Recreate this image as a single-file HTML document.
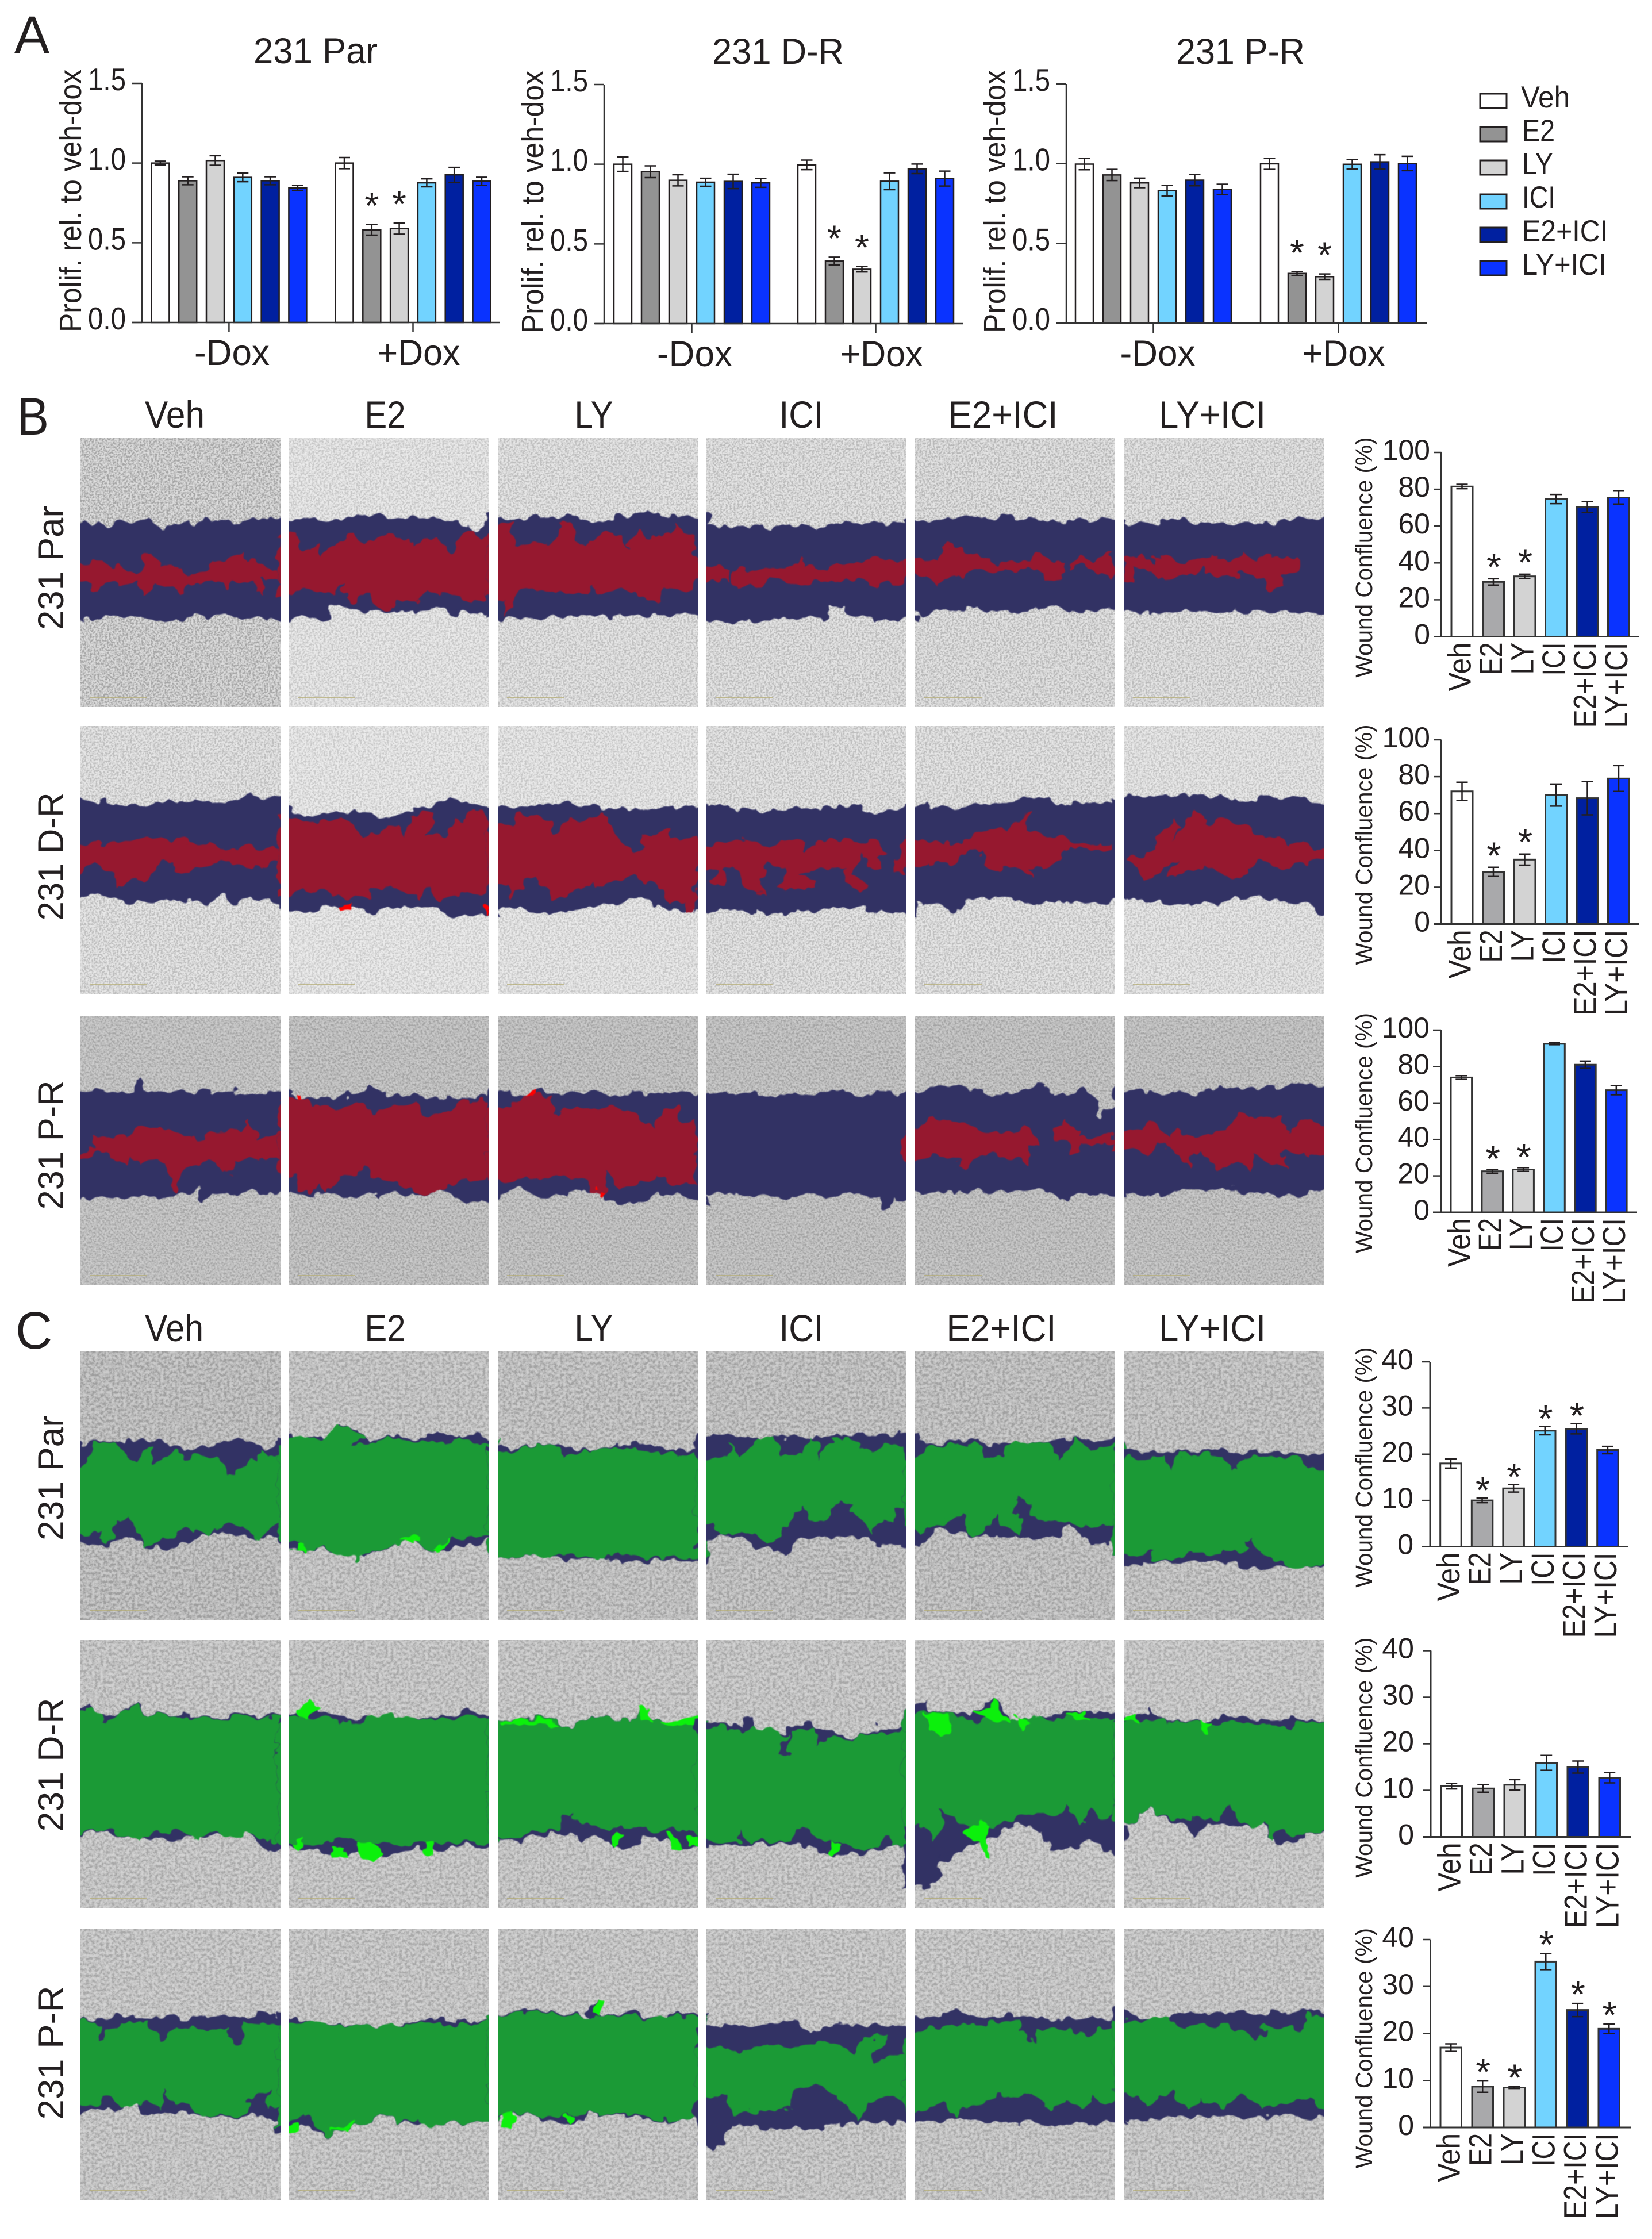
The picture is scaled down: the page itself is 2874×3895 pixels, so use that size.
<!DOCTYPE html>
<html lang="en">
<head>
<meta charset="utf-8">
<title>Wound confluence and proliferation figure</title>
<style>
html,body{margin:0;padding:0;background:#fff;}
svg{display:block;}
text{font-family:"Liberation Sans",Arial,sans-serif;fill:#231f20;}
</style>
</head>
<body>
<svg id="figure" xmlns="http://www.w3.org/2000/svg" width="2874" height="3895" viewBox="0 0 2874 3895">
<defs>
<filter id="tex-speckle" x="0" y="0" width="100%" height="100%" color-interpolation-filters="sRGB">
<feTurbulence type="fractalNoise" baseFrequency="0.3" numOctaves="3" seed="4"/>
<feColorMatrix type="matrix" values="3 0 0 0 -1  3 0 0 0 -1  3 0 0 0 -1  0 0 0 0 1"/>
</filter>
<filter id="tex-fine" x="0" y="0" width="100%" height="100%" color-interpolation-filters="sRGB">
<feTurbulence type="fractalNoise" baseFrequency="0.28" numOctaves="2" seed="7"/>
<feColorMatrix type="matrix" values="2.4 0 0 0 -0.7  2.4 0 0 0 -0.7  2.4 0 0 0 -0.7  0 0 0 0 1"/>
</filter>
<filter id="tex-fibre" x="0" y="0" width="100%" height="100%" color-interpolation-filters="sRGB">
<feTurbulence type="fractalNoise" baseFrequency="0.2" numOctaves="3" seed="11"/>
<feColorMatrix type="matrix" values="2.4 0 0 0 -0.7  2.4 0 0 0 -0.7  2.4 0 0 0 -0.7  0 0 0 0 1"/>
</filter>
<filter id="edge-wobble" filterUnits="userSpaceOnUse" x="120" y="740" width="2210" height="3110" color-interpolation-filters="sRGB">
<feTurbulence type="fractalNoise" baseFrequency="0.045" numOctaves="2" seed="9" result="noise"/>
<feColorMatrix in="noise" type="matrix" values="1 0 0 0 0  0 1 0 0 0  0 0 1 0 0  0 0 0 0 1" result="opaqueNoise"/>
<feDisplacementMap in="SourceGraphic" in2="opaqueNoise" scale="26" xChannelSelector="R" yChannelSelector="G" result="wobbled"/>
<feGaussianBlur in="wobbled" stdDeviation="0.9"/>
</filter>
<clipPath id="panel-clip"></clipPath>
</defs>

<rect x="0" y="0" width="2874" height="3895" fill="#ffffff"/>

<text x="25" y="92" font-size="92" textLength="61" lengthAdjust="spacingAndGlyphs">A</text>
<text x="30" y="756" font-size="92" textLength="55" lengthAdjust="spacingAndGlyphs">B</text>
<text x="27" y="2346" font-size="92" textLength="64" lengthAdjust="spacingAndGlyphs">C</text>

<text x="441" y="110" font-size="63" textLength="216" lengthAdjust="spacingAndGlyphs">231 Par</text>
<text x="1239" y="111" font-size="63" textLength="229" lengthAdjust="spacingAndGlyphs">231 D-R</text>
<text x="2046" y="111" font-size="63" textLength="224" lengthAdjust="spacingAndGlyphs">231 P-R</text>

<g>
<rect x="2575" y="163" width="46" height="25" fill="#ffffff" stroke="#231f20" stroke-width="3"/>
<text x="2646" y="187" font-size="53" textLength="85" lengthAdjust="spacingAndGlyphs">Veh</text>
<rect x="2575" y="221" width="46" height="25" fill="#939393" stroke="#231f20" stroke-width="3"/>
<text x="2648" y="245" font-size="53" textLength="57" lengthAdjust="spacingAndGlyphs">E2</text>
<rect x="2575" y="279" width="46" height="25" fill="#d3d3d3" stroke="#231f20" stroke-width="3"/>
<text x="2648" y="303" font-size="53" textLength="54" lengthAdjust="spacingAndGlyphs">LY</text>
<rect x="2575" y="338" width="46" height="25" fill="#72d3ff" stroke="#231f20" stroke-width="3"/>
<text x="2648" y="361" font-size="53" textLength="58" lengthAdjust="spacingAndGlyphs">ICI</text>
<rect x="2575" y="396" width="46" height="25" fill="#0020a0" stroke="#231f20" stroke-width="3"/>
<text x="2648" y="420" font-size="53" textLength="149" lengthAdjust="spacingAndGlyphs">E2+ICI</text>
<rect x="2575" y="454" width="46" height="25" fill="#0a33ff" stroke="#231f20" stroke-width="3"/>
<text x="2648" y="478" font-size="53" textLength="147" lengthAdjust="spacingAndGlyphs">LY+ICI</text>
</g>

<g text-anchor="middle" font-size="66">
<text x="304" y="744" textLength="104" lengthAdjust="spacingAndGlyphs">Veh</text>
<text x="670" y="744" textLength="71" lengthAdjust="spacingAndGlyphs">E2</text>
<text x="1033" y="744" textLength="67" lengthAdjust="spacingAndGlyphs">LY</text>
<text x="1394" y="744" textLength="77" lengthAdjust="spacingAndGlyphs">ICI</text>
<text x="1745" y="744" textLength="191" lengthAdjust="spacingAndGlyphs">E2+ICI</text>
<text x="2109" y="744" textLength="186" lengthAdjust="spacingAndGlyphs">LY+ICI</text>
</g>
<g text-anchor="middle" font-size="66">
<text x="303" y="2333" textLength="102" lengthAdjust="spacingAndGlyphs">Veh</text>
<text x="670" y="2333" textLength="71" lengthAdjust="spacingAndGlyphs">E2</text>
<text x="1033" y="2333" textLength="67" lengthAdjust="spacingAndGlyphs">LY</text>
<text x="1394" y="2333" textLength="77" lengthAdjust="spacingAndGlyphs">ICI</text>
<text x="1742" y="2333" textLength="191" lengthAdjust="spacingAndGlyphs">E2+ICI</text>
<text x="2109" y="2333" textLength="186" lengthAdjust="spacingAndGlyphs">LY+ICI</text>
</g>

<g text-anchor="middle" font-size="63">
<text transform="translate(110,988) rotate(-90)" textLength="216" lengthAdjust="spacingAndGlyphs">231 Par</text>
<text transform="translate(110,1490) rotate(-90)" textLength="223" lengthAdjust="spacingAndGlyphs">231 D-R</text>
<text transform="translate(110,1992) rotate(-90)" textLength="225" lengthAdjust="spacingAndGlyphs">231 P-R</text>
<text transform="translate(110,2571) rotate(-90)" textLength="218" lengthAdjust="spacingAndGlyphs">231 Par</text>
<text transform="translate(110,3070) rotate(-90)" textLength="233" lengthAdjust="spacingAndGlyphs">231 D-R</text>
<text transform="translate(110,3571) rotate(-90)" textLength="233" lengthAdjust="spacingAndGlyphs">231 P-R</text>
</g>

<g id="micrographs"></g>
<g id="charts"></g>
</svg>

<script>
// ---------- chart data ----------
const treatmentLabels = ['Veh', 'E2', 'LY', 'ICI', 'E2+ICI', 'LY+ICI'];
const treatmentLabelLengths = [85, 57, 56, 58, 149, 149];
const doseGroupLabels = ['-Dox', '+Dox'];
const proliferationTicks = [0, 0.5, 1, 1.5];
const proliferationTickLabels = ['0.0', '0.5', '1.0', '1.5'];
const confluenceTicksB = [0, 20, 40, 60, 80, 100];
const confluenceTickLabelsB = ['0', '20', '40', '60', '80', '100'];
const confluenceTicksC = [0, 10, 20, 30, 40];
const confluenceTickLabelsC = ['0', '10', '20', '30', '40'];

const parMinusDoxValues = [1.0, 0.889, 1.016, 0.91, 0.889, 0.844];
const parMinusDoxErrors = [0.012, 0.025, 0.03, 0.027, 0.025, 0.015];
const parPlusDoxValues = [1.0, 0.581, 0.589, 0.876, 0.926, 0.886];
const parPlusDoxErrors = [0.035, 0.033, 0.035, 0.025, 0.047, 0.025];
const parPlusDoxStars = [0, 1, 1, 0, 0, 0];

const drMinusDoxValues = [1.0, 0.953, 0.899, 0.887, 0.892, 0.883];
const drMinusDoxErrors = [0.045, 0.037, 0.035, 0.025, 0.045, 0.028];
const drPlusDoxValues = [0.996, 0.392, 0.341, 0.893, 0.971, 0.91];
const drPlusDoxErrors = [0.03, 0.025, 0.017, 0.053, 0.03, 0.047];
const drPlusDoxStars = [0, 1, 1, 0, 0, 0];

const prMinusDoxValues = [0.997, 0.929, 0.879, 0.831, 0.896, 0.839];
const prMinusDoxErrors = [0.035, 0.035, 0.03, 0.033, 0.035, 0.032];
const prPlusDoxValues = [0.999, 0.311, 0.291, 0.996, 1.011, 1.001];
const prPlusDoxErrors = [0.035, 0.012, 0.017, 0.03, 0.045, 0.045];
const prPlusDoxStars = [0, 1, 1, 0, 0, 0];

const woundBParValues = [81.5, 29.7, 32.7, 74.7, 70.3, 75.5];
const woundBParErrors = [1.2, 1.7, 1.2, 2.5, 3, 3.5];
const woundBParStars = [0, 1, 1, 0, 0, 0];
const woundBDrValues = [72, 28.3, 35, 70, 68.3, 79];
const woundBDrErrors = [5, 2.5, 3, 6, 9, 7];
const woundBDrStars = [0, 1, 1, 0, 0, 0];
const woundBPrValues = [74, 22.5, 23.5, 92.5, 81, 67];
const woundBPrErrors = [1, 1, 1, 0.5, 2, 2.5];
const woundBPrStars = [0, 1, 1, 0, 0, 0];

const woundCParValues = [18, 10, 12.6, 25.1, 25.5, 20.9];
const woundCParErrors = [1, 0.5, 0.8, 0.9, 1.1, 0.8];
const woundCParStars = [0, 1, 1, 1, 1, 0];
const woundCDrValues = [10.9, 10.4, 11.2, 15.9, 15, 12.7];
const woundCDrErrors = [0.6, 0.8, 1.1, 1.6, 1.3, 1.1];
const woundCDrStars = [0, 0, 0, 0, 0, 0];
const woundCPrValues = [17, 8.7, 8.5, 35.3, 25, 21];
const woundCPrErrors = [0.8, 1.2, 0.2, 1.7, 1.4, 1];
const woundCPrStars = [0, 1, 1, 1, 1, 1];

// ---------- micrograph traces (crop-space outlines of the segmented wound areas) ----------
const cellPalette = {navy: '#323264', red: '#96182f', green: '#1b9a36', hotRed: '#ff0000', hotGreen: '#0cf00c'};
const micrographMasks = [
 {n:'b-par-veh',c:0,col:0,row:0,tone:'#c8c8c8',band:'14,170 60,172 120,168 180,166 205,170 220,180 240,174 300,172 350,162 420,168 480,162 510,165 510,343 430,338 340,336 260,340 200,343 120,340 60,342 14,342',fill:['14,250 40,244 70,238 90,245 130,255 150,262 170,255 175,235 190,226 205,240 205,252 250,250 280,265 330,260 345,240 390,235 420,222 425,240 460,238 490,255 510,260 510,282 480,270 465,268 470,295 455,290 450,272 400,278 375,285 370,276 300,272 280,280 270,300 258,298 250,288 200,276 190,288 170,298 160,285 165,272 130,280 100,278 60,280 50,292 35,275 14,270']},
 {n:'b-par-e2',c:0,col:1,row:0,tone:'#dedede',band:'530,165 580,160 620,165 700,160 760,157 830,160 890,157 950,170 1000,180 1015,170 1027,165 1027,335 950,330 880,325 800,330 700,325 670,322 640,320 622,340 580,340 530,338',fill:['530,190 550,190 565,215 580,222 600,210 610,230 640,205 670,200 680,190 720,205 750,205 760,192 830,198 840,212 870,195 905,200 930,225 965,190 990,178 1005,195 1027,195 1027,305 1000,312 970,308 930,295 880,288 850,312 800,305 780,325 760,322 730,300 690,310 670,300 665,272 650,295 600,290 560,285 530,300']},
 {n:'b-par-ly',c:0,col:2,row:0,tone:'#d8d8d8',band:'1049,155 1120,162 1200,160 1290,165 1350,160 1425,152 1500,158 1545,158 1545,335 1480,333 1400,335 1300,338 1200,335 1120,340 1049,338',fill:['1049,185 1085,165 1090,210 1130,212 1170,205 1195,190 1205,167 1230,175 1245,200 1260,208 1290,192 1350,190 1375,220 1395,180 1430,195 1480,190 1490,170 1505,190 1545,195 1545,292 1480,290 1460,285 1445,315 1420,305 1380,292 1300,296 1290,278 1275,298 1200,295 1140,290 1100,288 1085,315 1065,335 1060,310 1049,305']},
 {n:'b-par-ici',c:1,col:3,row:0,tone:'#d6d6d6',band:'27,177 100,175 180,178 260,172 300,182 340,170 400,170 523,168 523,343 480,347 420,340 375,335 365,318 335,320 325,342 250,340 120,345 27,347',fill:['27,242 55,252 85,258 85,270 55,268 27,272','95,258 160,252 185,255 230,250 255,248 265,236 270,250 330,255 370,245 420,238 523,238 523,280 470,278 430,282 390,268 340,275 300,275 240,278 190,268 160,280 110,288 95,270']},
 {n:'b-par-e2-ici',c:1,col:4,row:0,tone:'#d4d4d4',band:'544,162 640,165 720,160 850,160 900,170 960,162 1040,160 1040,322 960,328 880,325 800,330 700,325 620,327 544,333',fill:['544,230 600,238 610,218 640,208 680,232 730,230 745,248 780,238 820,240 850,225 890,240 915,240 905,250 905,268 880,280 860,275 860,255 820,248 770,255 680,255 670,268 640,262 600,278 570,265 544,262','930,248 955,225 990,238 1040,220 1040,272 1000,262 970,245']},
 {n:'b-par-ly-ici',c:1,col:5,row:0,tone:'#d6d6d6',band:'1062,170 1130,170 1200,165 1290,172 1380,170 1450,170 1500,160 1558,165 1558,333 1400,328 1280,330 1230,325 1150,332 1062,328',fill:['1068,232 1085,235 1105,228 1130,240 1170,232 1200,240 1240,240 1280,222 1320,240 1350,225 1390,240 1430,228 1480,235 1500,232 1490,250 1455,265 1450,285 1420,285 1405,262 1330,262 1270,265 1250,248 1240,258 1180,270 1150,268 1130,250 1085,255 1080,275 1065,275']},

 {n:'b-dr-veh',c:0,col:0,row:1,tone:'#d8d8d8',band:'14,680 50,678 90,685 150,690 230,680 270,682 340,678 400,680 430,670 510,670 510,860 440,855 400,863 365,848 320,865 270,855 200,860 150,862 90,855 50,845 14,855',fill:['14,760 70,755 170,745 260,750 350,762 510,762 510,790 480,792 470,800 420,790 330,790 300,800 270,812 255,810 245,790 210,795 170,820 130,825 115,838 100,815 60,795 50,790 14,808']},
 {n:'b-dr-e2',c:0,col:1,row:1,tone:'#e0e0e0',band:'530,685 570,708 620,700 700,700 770,712 830,695 880,690 930,675 980,682 1027,698 1027,885 950,885 900,870 800,870 730,880 700,870 620,868 570,880 530,875',fill:['530,700 570,720 650,712 680,715 710,745 745,735 800,725 820,745 835,700 890,700 870,740 920,745 940,710 975,715 985,695 1027,715 1027,845 960,845 900,860 870,830 860,860 800,835 750,835 720,855 680,850 640,848 620,840 570,840 530,850'],hot:['655,870 685,866 682,877 660,875','1015,870 1027,870 1027,885']},
 {n:'b-dr-ly',c:0,col:2,row:1,tone:'#dedede',band:'1049,690 1100,695 1190,680 1250,688 1330,690 1400,695 1480,693 1545,685 1545,880 1480,875 1400,858 1300,865 1180,885 1100,870 1049,875',fill:['1049,730 1085,720 1105,705 1160,705 1185,735 1230,715 1290,710 1310,695 1320,715 1360,760 1400,770 1410,745 1440,745 1470,725 1480,750 1545,740 1545,875 1520,880 1505,855 1480,860 1445,825 1430,820 1415,825 1380,815 1340,820 1290,840 1280,825 1250,840 1185,850 1140,810 1115,815 1105,835 1085,855 1075,825 1049,835']},
 {n:'b-dr-ici',c:1,col:3,row:1,tone:'#d8d8d8',band:'27,685 80,688 90,698 130,695 230,695 340,690 400,685 420,700 523,688 523,888 480,878 380,870 280,875 240,873 180,883 155,868 145,880 90,875 27,882',fill:['27,758 100,752 140,750 180,762 220,750 270,752 275,770 310,748 380,750 410,755 450,752 478,768 440,780 460,800 430,798 420,775 400,790 385,810 420,825 430,830 415,845 380,825 370,800 280,800 260,815 295,825 295,838 240,840 210,840 225,800 180,790 150,825 175,848 140,840 115,820 90,795 60,800 75,825 50,835 40,822 50,800 27,798','490,795 520,760 523,810 495,805']},
 {n:'b-dr-e2-ici',c:1,col:4,row:1,tone:'#d8d8d8',band:'544,685 640,690 780,680 850,670 900,685 1040,680 1040,858 930,862 880,855 850,865 730,852 630,875 590,860 544,862',fill:['544,742 575,752 620,755 665,755 690,740 750,725 770,735 790,715 805,715 825,700 815,730 850,735 880,742 915,740 935,757 1040,757 1040,765 925,765 885,790 860,805 830,795 835,812 800,800 760,795 745,810 720,795 715,765 680,765 650,785 600,790 580,795 544,798']},
 {n:'b-dr-ly-ici',c:1,col:5,row:1,tone:'#dcdcdc',band:'1062,672 1180,670 1300,670 1350,680 1440,670 1530,680 1558,688 1558,885 1520,865 1450,855 1370,855 1310,860 1230,865 1150,860 1080,855 1062,855',fill:['1078,785 1145,770 1150,740 1190,710 1205,728 1170,755 1210,735 1230,695 1265,700 1270,715 1330,712 1390,735 1450,745 1470,762 1505,750 1530,765 1558,765 1558,785 1510,790 1470,800 1410,790 1365,800 1345,815 1270,795 1235,805 1175,810 1200,775 1170,795 1115,820 1100,800']},

 {n:'b-pr-veh',c:0,col:0,row:2,tone:'#bebebe',band:'14,1210 130,1213 148,1210 150,1190 165,1188 175,1210 240,1213 380,1207 470,1215 510,1210 510,1392 420,1390 340,1395 315,1408 310,1385 290,1395 200,1398 130,1400 60,1395 40,1407 14,1400',fill:['14,1320 50,1315 50,1292 130,1295 155,1272 200,1280 250,1280 310,1300 340,1285 415,1285 435,1262 450,1300 510,1280 510,1328 400,1330 385,1360 370,1345 320,1335 285,1345 265,1360 250,1395 235,1390 245,1365 225,1340 190,1330 165,1340 140,1320 130,1345 90,1330 60,1318 14,1330']},
 {n:'b-pr-e2',c:0,col:1,row:2,tone:'#bcbcbc',band:'530,1218 650,1225 700,1212 730,1196 755,1215 830,1218 970,1225 1027,1215 1027,1405 975,1412 930,1392 850,1397 700,1397 640,1397 580,1395 530,1385',fill:['530,1225 570,1220 590,1240 640,1240 700,1232 740,1248 790,1235 840,1235 860,1250 920,1250 950,1228 1027,1225 1027,1360 950,1370 900,1395 850,1395 800,1370 740,1370 725,1345 700,1360 650,1360 630,1395 600,1370 590,1390 560,1385 545,1360 530,1360'],hot:['556,1212 565,1212 565,1218 556,1218']},
 {n:'b-pr-ly',c:0,col:2,row:2,tone:'#bcbcbc',band:'1049,1210 1130,1215 1150,1207 1180,1215 1300,1217 1440,1215 1545,1210 1545,1407 1470,1395 1360,1418 1310,1395 1250,1385 1180,1398 1100,1385 1049,1395',fill:['1049,1240 1085,1240 1120,1215 1180,1220 1190,1250 1250,1235 1300,1240 1330,1235 1380,1250 1440,1275 1460,1240 1500,1235 1505,1270 1545,1250 1545,1380 1500,1375 1470,1362 1400,1370 1350,1385 1320,1355 1310,1390 1290,1395 1270,1370 1200,1362 1100,1370 1049,1370'],hot:['1125,1215 1145,1206 1145,1214','1298,1392 1306,1392 1306,1398 1298,1398']},
 {n:'b-pr-ici',c:1,col:3,row:2,tone:'#bcbcbc',band:'27,1210 100,1215 200,1217 350,1213 420,1218 523,1210 523,1405 490,1405 485,1420 465,1420 460,1400 400,1398 240,1395 225,1408 210,1398 100,1393 27,1397',fill:[]},
 {n:'b-pr-e2-ici',c:1,col:4,row:2,tone:'#bcbcbc',band:'544,1212 660,1197 720,1215 800,1215 865,1195 885,1218 960,1205 1003,1228 990,1258 1010,1265 1020,1245 1040,1233 1040,1403 990,1390 960,1395 905,1405 880,1390 700,1390 544,1395',fill:['544,1285 580,1272 590,1255 650,1265 700,1278 770,1285 820,1275 855,1305 830,1310 825,1338 790,1330 720,1320 690,1330 670,1352 645,1345 665,1330 620,1328 585,1325 544,1338','892,1275 915,1275 920,1260 930,1275 955,1280 955,1293 1040,1293 1040,1302 958,1302 955,1320 930,1322 925,1305 895,1295']},
 {n:'b-pr-ly-ici',c:1,col:5,row:2,tone:'#bcbcbc',band:'1062,1205 1130,1210 1210,1215 1300,1205 1400,1205 1490,1195 1558,1207 1558,1388 1480,1400 1400,1395 1330,1385 1280,1390 1200,1385 1130,1400 1062,1387',fill:['1062,1290 1105,1278 1125,1262 1150,1280 1180,1295 1190,1278 1240,1295 1320,1280 1350,1248 1370,1265 1420,1255 1460,1255 1465,1285 1510,1258 1558,1275 1558,1320 1520,1333 1510,1318 1450,1320 1470,1345 1430,1338 1385,1325 1375,1352 1345,1335 1295,1350 1260,1320 1230,1315 1225,1345 1210,1325 1150,1305 1130,1325 1090,1310 1062,1320']},

 {n:'c-par-veh',c:2,col:0,row:3,tone:'#bababa',band:'14,185 45,178 90,175 130,178 170,178 230,182 280,198 350,182 400,172 440,178 465,195 510,168 510,350 440,352 370,342 320,345 270,360 215,375 170,360 120,355 60,365 14,362',fill:['14,235 50,195 45,180 100,178 120,200 160,220 175,190 190,190 190,220 250,198 290,205 350,205 375,235 400,235 430,210 460,215 455,195 480,205 510,200 510,332 480,330 455,355 420,325 380,325 340,345 300,340 250,340 210,360 180,365 160,345 135,308 100,325 90,355 60,360 70,335 45,340 30,345 14,345']},
 {n:'c-par-e2',c:2,col:1,row:3,tone:'#c0c0c0',band:'530,172 570,170 630,170 660,148 700,158 730,180 780,168 850,170 900,165 950,170 1000,165 1027,175 1027,350 970,365 890,380 830,352 720,388 650,375 600,368 560,380 530,355',fill:['530,185 555,165 610,175 650,150 690,155 710,165 690,180 720,185 780,170 840,175 880,175 920,185 960,170 1000,185 1027,172 1027,352 990,350 935,352 910,375 890,380 840,355 790,365 740,380 700,390 670,385 640,372 590,368 575,378 545,378 560,362 530,350'],hot:['550,365 570,363 565,380 552,378','820,352 860,358 840,362','890,375 925,362 900,382']},
 {n:'c-par-ly',c:2,col:2,row:3,tone:'#bdbdbd',band:'1049,188 1100,190 1150,182 1200,185 1240,195 1300,192 1410,180 1490,200 1545,188 1545,395 1480,390 1380,398 1300,385 1230,392 1130,380 1100,388 1049,387',fill:['1049,195 1095,195 1145,182 1195,185 1215,210 1245,200 1300,192 1360,190 1420,195 1500,205 1545,195 1545,392 1480,385 1450,392 1400,380 1340,380 1310,390 1225,380 1180,388 1130,380 1100,388 1049,387']},
 {n:'c-par-ici',c:3,col:3,row:3,tone:'#bcbcbc',band:'27,170 100,168 200,170 260,172 350,170 420,162 523,165 523,360 460,365 430,348 360,352 330,348 260,350 225,380 185,365 150,372 120,350 60,345 27,372',fill:['27,210 80,205 85,180 105,210 165,168 200,170 210,205 270,200 290,170 310,178 300,218 340,175 385,170 420,198 480,185 523,180 523,295 490,298 490,325 465,320 445,350 420,320 385,305 390,290 365,280 340,295 325,320 290,325 275,300 265,295 240,315 215,345 180,360 150,345 100,340 60,345 45,325 27,330']},
 {n:'c-par-e2-ici',c:3,col:4,row:3,tone:'#bcbcbc',band:'544,172 600,185 660,172 700,180 770,182 850,178 950,175 1040,170 1040,360 980,360 960,335 925,330 905,348 840,350 740,348 680,345 600,335 570,365 544,367',fill:['544,215 590,188 650,182 700,182 720,215 760,200 790,180 880,178 905,220 925,190 950,175 980,195 1040,180 1040,320 975,330 915,325 850,320 830,285 805,278 780,305 815,320 800,345 760,330 745,308 720,340 680,345 660,305 620,320 605,330 580,325 560,345 544,335']},
 {n:'c-par-ly-ici',c:3,col:5,row:3,tone:'#bebebe',band:'1062,195 1150,198 1250,198 1340,200 1440,195 1558,203 1558,400 1470,400 1400,408 1300,395 1230,395 1062,402',fill:['1062,210 1120,210 1165,205 1175,235 1195,200 1290,205 1340,228 1360,205 1430,208 1490,205 1520,225 1558,235 1558,395 1480,402 1400,380 1380,350 1350,355 1370,375 1310,375 1300,385 1230,370 1180,395 1130,395 1150,370 1100,385 1062,390']},

 {n:'c-dr-veh',c:2,col:0,row:4,tone:'#c2c2c2',band:'14,675 40,658 60,680 110,680 150,656 180,680 260,678 340,680 420,678 510,682 510,905 480,925 440,895 350,895 300,900 250,905 160,900 100,890 60,885 14,895',fill:['14,690 30,665 50,670 65,680 60,725 52,725 50,695 110,680 150,658 180,680 260,680 340,682 510,682 510,900 480,905 440,895 390,900 330,885 300,905 250,885 200,890 160,905 100,885 50,885 14,895']},
 {n:'c-dr-e2',c:2,col:1,row:4,tone:'#c2c2c2',band:'530,690 550,680 590,655 600,672 680,690 780,685 900,685 980,670 1027,690 1027,915 950,915 880,925 840,920 760,935 700,925 660,935 600,920 530,915',fill:['530,692 580,680 640,690 710,695 740,680 800,682 900,690 960,680 1027,692 1027,908 940,910 880,910 820,912 700,912 660,895 640,905 600,910 530,910'],hot:['560,665 590,652 600,665 575,680 560,678','640,920 668,920 668,937 640,937','700,915 730,912 760,930 740,940 710,935','865,912 885,912 885,930 865,930','540,912 570,905 550,920']},
 {n:'c-dr-ly',c:2,col:2,row:4,tone:'#c2c2c2',band:'1049,690 1130,683 1190,685 1205,705 1250,695 1295,680 1380,690 1410,668 1440,690 1545,688 1545,918 1500,920 1440,895 1340,925 1300,895 1250,905 1210,890 1100,905 1049,897',fill:['1049,690 1130,683 1190,685 1205,705 1250,695 1295,680 1380,690 1410,668 1440,690 1545,688 1545,895 1500,885 1440,890 1390,880 1330,885 1295,885 1260,870 1235,855 1210,860 1200,885 1150,890 1090,900 1049,895'],hot:['1330,900 1355,898 1345,925 1332,920','1470,895 1495,905 1500,920 1475,920','1520,900 1545,897 1545,920 1525,915','1055,692 1100,684 1185,688 1195,698 1140,693','1405,668 1420,668 1437,690 1410,685','1450,690 1545,684 1545,694 1480,695']},
 {n:'c-dr-ici',c:3,col:3,row:4,tone:'#c2c2c2',band:'27,690 70,695 120,700 130,680 145,680 145,698 200,715 270,695 340,712 400,722 450,700 523,708 523,920 440,920 370,932 330,930 260,915 200,910 120,915 60,915 27,910',fill:['27,710 60,695 115,710 145,700 185,700 210,715 235,712 215,730 205,755 225,752 245,710 290,700 305,715 290,735 330,720 400,722 450,705 480,712 523,708 523,920 490,920 480,895 440,920 370,915 330,905 300,900 265,880 230,910 190,905 130,912 115,882 105,910 60,910 27,895'],hot:['335,910 360,918 345,932 332,930']},
 {n:'c-dr-e2-ici',c:3,col:4,row:4,tone:'#c4c4c4',band:'544,660 570,648 580,672 640,675 680,680 740,645 780,690 850,682 900,675 960,670 1040,678 1040,925 1010,925 980,905 925,920 880,920 860,885 790,875 725,910 700,908 655,925 590,950 610,970 575,990 544,995',fill:['544,668 570,672 620,675 640,675 670,690 700,690 730,685 780,690 830,680 900,685 1040,682 1040,830 1020,870 980,850 960,875 915,840 900,860 860,860 815,855 790,870 740,880 660,880 630,860 605,852 610,880 590,905 565,880 544,880'],hot:['570,675 625,680 628,705 600,715 585,700','695,670 730,665 740,645 760,680 780,690 730,685','800,680 825,688 815,710 805,700','920,680 965,670 975,685','660,895 690,880 725,878 725,935 700,905']},
 {n:'c-dr-ly-ici',c:3,col:5,row:4,tone:'#c4c4c4',band:'1062,685 1120,680 1130,668 1145,680 1150,690 1260,690 1290,680 1320,680 1430,690 1500,685 1558,688 1558,880 1530,895 1450,915 1420,905 1420,870 1380,885 1300,870 1260,880 1240,897 1220,880 1150,860 1125,845 1100,850 1090,870 1062,870',fill:['1062,690 1120,690 1150,690 1260,692 1290,700 1320,690 1430,695 1480,710 1500,690 1558,688 1558,880 1510,900 1450,890 1420,910 1425,870 1380,885 1340,870 1330,842 1300,860 1260,868 1240,860 1220,865 1150,860 1125,845 1100,850 1090,870 1062,870'],hot:['1065,685 1090,678 1095,690','1250,688 1278,692 1270,704']},

 {n:'c-pr-veh',c:2,col:0,row:5,tone:'#c2c2c2',band:'14,1240 60,1235 100,1228 170,1235 240,1232 300,1232 400,1230 510,1230 510,1420 480,1415 400,1408 300,1410 220,1395 180,1405 130,1385 100,1405 60,1395 14,1410',fill:['14,1240 45,1238 65,1255 65,1272 90,1255 110,1245 180,1240 210,1275 230,1275 250,1248 310,1255 380,1250 370,1270 415,1280 420,1245 510,1245 510,1390 480,1395 485,1360 440,1375 420,1405 380,1405 310,1410 280,1388 245,1385 215,1365 215,1390 170,1385 150,1395 110,1385 70,1375 60,1390 14,1385']},
 {n:'c-pr-e2',c:2,col:1,row:5,tone:'#c2c2c2',band:'530,1225 580,1242 700,1245 790,1245 900,1235 1027,1240 1027,1420 900,1425 800,1420 770,1400 740,1420 630,1445 560,1425 530,1440',fill:['530,1242 600,1240 640,1245 690,1245 750,1245 1027,1240 1027,1420 900,1425 860,1425 850,1415 800,1420 770,1400 740,1420 630,1445 590,1425 570,1405 530,1430'],hot:['530,1430 550,1425 548,1440 530,1440','640,1438 690,1425 680,1436']},
 {n:'c-pr-ly',c:2,col:2,row:5,tone:'#c2c2c2',band:'1049,1230 1115,1220 1250,1225 1270,1240 1290,1200 1310,1225 1380,1218 1440,1235 1460,1245 1480,1225 1545,1228 1545,1405 1500,1420 1400,1415 1280,1405 1230,1430 1150,1410 1049,1412',fill:['1049,1230 1115,1222 1250,1228 1285,1240 1312,1225 1380,1225 1440,1235 1480,1228 1545,1232 1545,1405 1500,1420 1400,1412 1280,1405 1240,1410 1140,1410 1049,1410'],hot:['1290,1200 1310,1205 1305,1225 1290,1222','1062,1412 1085,1412 1085,1430 1065,1430','1218,1414 1242,1414 1230,1430']},
 {n:'c-pr-ici',c:3,col:3,row:5,tone:'#c2c2c2',band:'27,1255 100,1247 180,1245 250,1240 290,1262 350,1245 450,1245 523,1245 523,1425 420,1418 340,1425 210,1435 100,1425 75,1430 75,1460 40,1468 27,1460',fill:['27,1290 80,1288 130,1298 180,1280 250,1290 300,1278 350,1280 390,1298 420,1270 470,1265 470,1280 440,1290 440,1313 510,1295 523,1300 523,1390 490,1375 430,1380 405,1415 375,1390 360,1370 300,1355 240,1370 235,1395 150,1400 90,1408 78,1370 27,1380']},
 {n:'c-pr-e2-ici',c:3,col:4,row:5,tone:'#c2c2c2',band:'544,1240 640,1220 720,1235 800,1228 860,1235 960,1235 1040,1235 1040,1420 950,1425 840,1420 700,1420 660,1410 620,1418 544,1420',fill:['544,1270 590,1250 660,1240 700,1255 740,1240 800,1235 815,1275 850,1280 850,1250 920,1255 970,1262 1040,1240 1040,1385 1000,1385 980,1370 960,1400 920,1375 880,1400 830,1365 790,1380 750,1370 700,1390 660,1395 650,1410 620,1385 544,1408']},
 {n:'c-pr-ly-ici',c:3,col:5,row:5,tone:'#c2c2c2',band:'1062,1212 1130,1240 1200,1225 1300,1222 1400,1225 1558,1222 1558,1415 1480,1410 1400,1415 1300,1405 1130,1415 1062,1415',fill:['1062,1235 1110,1240 1170,1230 1210,1248 1340,1250 1390,1275 1420,1248 1510,1255 1525,1225 1558,1240 1558,1410 1520,1380 1460,1385 1400,1395 1350,1370 1310,1395 1260,1375 1220,1395 1180,1365 1120,1390 1090,1370 1062,1370']}
];

// ---------- layout (kept apart from the data) ----------
const SVGNS = 'http://www.w3.org/2000/svg';
const barFills = ['#ffffff', '#939393', '#d3d3d3', '#72d3ff', '#0020a0', '#0a33ff'];
const woundFills = ['#ffffff', '#a9a9ab', '#d3d3d3', '#72d3ff', '#0020a0', '#0a33ff'];
const INK = '#231f20';

function make(tag, attrs, parent) {
  const el = document.createElementNS(SVGNS, tag);
  for (const key in attrs) el.setAttribute(key, attrs[key]);
  if (parent) parent.appendChild(el);
  return el;
}

function slug(label) {
  return label.toLowerCase().replace(/\+/g, '-').replace(/[^a-z0-9-]/g, '');
}

// push outline vertices that sit on a panel side past the clip, so edge wobble leaves no gap
function bleedSides(points, minX, maxX) {
  return points.split(' ').map(function (pair) {
    const xy = pair.split(',').map(Number);
    if (xy[0] <= minX + 1) xy[0] = minX - 24;
    else if (xy[0] >= maxX - 1) xy[0] = maxX + 24;
    return xy.join(',');
  }).join(' ');
}

function outlineExtent(points) {
  const xs = points.split(' ').map(function (pair) { return Number(pair.split(',')[0]); });
  return [Math.min.apply(null, xs), Math.max.apply(null, xs)];
}

// ---------- micrographs ----------
const micrographRoot = document.getElementById('micrographs');
const columnEdges = [[140, 488], [502, 850.5], [866, 1214], [1229, 1577], [1592, 1940], [1955, 2303]];
const rowEdges = [[762, 1230], [1263, 1729], [1767, 2235], [2351, 2818], [2853, 3319], [3355, 3827]];
const cropTransforms = [
  'translate(130,750) scale(.7015,.9503)',
  'translate(1210,750) scale(.7015,.9503)',
  'translate(130,2340) scale(.7015,.9503)',
  'translate(1210,2340) scale(.7015,.9503)'
];

const panelClip = document.getElementById('panel-clip');
columnEdges.forEach(function (cx) {
  rowEdges.forEach(function (ry) {
    make('rect', {x: cx[0], y: ry[0], width: cx[1] - cx[0], height: ry[1] - ry[0]}, panelClip);
  });
});

micrographMasks.forEach(function (m) {
  const cx = columnEdges[m.col];
  const ry = rowEdges[m.row];
  const base = make('rect', {x: cx[0], y: ry[0], width: cx[1] - cx[0], height: ry[1] - ry[0], fill: m.tone}, micrographRoot);
  
  
});

const speckleTexture = make('rect', {x: 140, y: 762, width: 2163, height: 967, fill: '#808080', filter: 'url(#tex-speckle)', 'clip-path': 'url(#panel-clip)', opacity: 0.8, style: 'mix-blend-mode:soft-light'}, micrographRoot);


const fineTexture = make('rect', {x: 140, y: 1767, width: 2163, height: 468, fill: '#808080', filter: 'url(#tex-fine)', 'clip-path': 'url(#panel-clip)', opacity: 0.5, style: 'mix-blend-mode:soft-light'}, micrographRoot);


const fibreTexture = make('rect', {x: 140, y: 2351, width: 2163, height: 1476, fill: '#808080', filter: 'url(#tex-fibre)', 'clip-path': 'url(#panel-clip)', opacity: 0.55, style: 'mix-blend-mode:soft-light'}, micrographRoot);



const maskClip = make('g', {'clip-path': 'url(#panel-clip)'}, micrographRoot);


const maskLayer = make('g', {filter: 'url(#edge-wobble)'}, maskClip);



micrographMasks.forEach(function (m) {
  const isB = m.row < 3;
  const fillColor = isB ? cellPalette.red : cellPalette.green;
  const hotColor = isB ? cellPalette.hotRed : cellPalette.hotGreen;
  const extent = outlineExtent(m.band);
  const group = make('g', {transform: cropTransforms[m.c], 'stroke-linejoin': 'round'}, maskLayer);
  
  
  const band = make('polygon', {points: bleedSides(m.band, extent[0], extent[1]), fill: cellPalette.navy, stroke: cellPalette.navy, 'stroke-width': 4}, group);
  
  
  m.fill.forEach(function (pts) {
    const area = make('polygon', {points: bleedSides(pts, extent[0], extent[1]), fill: fillColor, stroke: fillColor, 'stroke-width': 3}, group);
    
    
  });
  (m.hot || []).forEach(function (pts) {
    const spot = make('polygon', {points: pts, fill: hotColor, stroke: hotColor, 'stroke-width': 3}, group);
    
    
  });
  const cx = columnEdges[m.col];
  const ry = rowEdges[m.row];
  const scale = make('line', {x1: cx[0] + 16, x2: cx[0] + 116, y1: ry[1] - 16, y2: ry[1] - 16, stroke: '#b5ad76', 'stroke-width': 1.5}, micrographRoot);
  
  
});

// ---------- charts ----------
const chartRoot = document.getElementById('charts');

function drawProliferationChart(name, layout, minusValues, minusErrors, plusValues, plusErrors, plusStars) {
  const g = make('g', {}, chartRoot);
  
  
  const yMax = proliferationTicks[proliferationTicks.length - 1];
  const yScale = function (v) { return layout.y0 - (v / yMax) * (layout.y0 - layout.yTop); };
  const xScale = function (groupIndex, barIndex) { return layout.groupStarts[groupIndex] + barIndex * layout.step; };

  const seriesValues = [minusValues, plusValues];
  const seriesErrors = [minusErrors, plusErrors];
  seriesValues.forEach(function (vals, gi) {
    vals.forEach(function (v, i) {
      const bar = make('rect', {x: xScale(gi, i), y: yScale(v), width: layout.barW, height: layout.y0 - yScale(v), fill: barFills[i], stroke: INK, 'stroke-width': 2.5}, g);
      
      
      const cx = xScale(gi, i) + layout.barW / 2;
      const e = seriesErrors[gi][i];
      const err = make('path', {d: 'M' + (cx - 10) + ' ' + yScale(v + e) + 'H' + (cx + 10) + 'M' + cx + ' ' + yScale(v + e) + 'V' + yScale(v - e) + 'M' + (cx - 10) + ' ' + yScale(v - e) + 'H' + (cx + 10), fill: 'none', stroke: INK, 'stroke-width': 2.5}, g);
      
      
    });
  });
  plusValues.forEach(function (v, i) {
    if (!plusStars[i]) return;
    const cx = xScale(1, i) + layout.barW / 2;
    const star = make('text', {x: cx, y: yScale(v + plusErrors[i]) - 48 + 37, 'font-size': 64, 'text-anchor': 'middle'}, g);
    star.textContent = '*';
    
    
  });

  const axes = make('path', {d: 'M' + layout.axisX + ' ' + layout.yTop + 'V' + layout.y0 + 'M' + layout.xL + ' ' + layout.y0 + 'H' + layout.xR, fill: 'none', stroke: '#333333', 'stroke-width': 2.5}, g);
  
  
  proliferationTicks.forEach(function (t, i) {
    const tick = make('line', {x1: layout.axisX - 17, x2: layout.axisX, y1: yScale(t), y2: yScale(t), stroke: '#333333', 'stroke-width': 2.5}, g);
    
    
    const label = make('text', {x: layout.axisX - 28, y: yScale(t) + 12, 'font-size': 55, 'text-anchor': 'end', textLength: 66, lengthAdjust: 'spacingAndGlyphs'}, g);
    label.textContent = proliferationTickLabels[i];
    
    
  });
  doseGroupLabels.forEach(function (lab, gi) {
    const cx = xScale(gi, 0) + (xScale(gi, 5) + layout.barW - xScale(gi, 0)) / 2;
    const tick = make('line', {x1: cx, x2: cx, y1: layout.y0, y2: layout.y0 + 17, stroke: '#333333', 'stroke-width': 2.5}, g);
    
    
    const label = make('text', {x: layout.labelCenters[gi], y: layout.y0 + 74, 'font-size': 63, 'text-anchor': 'middle', textLength: gi === 0 ? 131 : 144, lengthAdjust: 'spacingAndGlyphs'}, g);
    label.textContent = lab;
    
    
  });
  const title = make('text', {transform: 'translate(' + (layout.axisX - 106) + ',' + (layout.y0 + 17) + ') rotate(-90)', 'font-size': 54, textLength: 457, lengthAdjust: 'spacingAndGlyphs'}, g);
  title.textContent = 'Prolif. rel. to veh-dox';
  
  
}

function drawWoundChart(name, layout, ticks, tickLabels, values, errors, stars) {
  const g = make('g', {}, chartRoot);
  
  
  const yMax = ticks[ticks.length - 1];
  const yScale = function (v) { return layout.y0 - (v / yMax) * (layout.y0 - layout.yTop); };
  const xScale = function (i) { return layout.bar0 + i * layout.step; };

  values.forEach(function (v, i) {
    const bar = make('rect', {x: xScale(i), y: yScale(v), width: layout.barW, height: layout.y0 - yScale(v), fill: woundFills[i], stroke: '#333333', 'stroke-width': 3}, g);
    
    
    const cx = xScale(i) + layout.barW / 2;
    const e = errors[i];
    const err = make('path', {d: 'M' + (cx - 10) + ' ' + yScale(v + e) + 'H' + (cx + 10) + 'M' + cx + ' ' + yScale(v + e) + 'V' + yScale(v - e) + 'M' + (cx - 10) + ' ' + yScale(v - e) + 'H' + (cx + 10), fill: 'none', stroke: INK, 'stroke-width': 2.5}, g);
    
    
    if (stars[i]) {
      const star = make('text', {x: cx + 1, y: yScale(v + e) - layout.starGap + 35, 'font-size': 66, 'text-anchor': 'middle'}, g);
      star.textContent = '*';
      
      
    }
    const label = make('text', {transform: 'translate(' + (cx + 15) + ',' + (layout.y0 + 10) + ') rotate(-90)', 'font-size': 56, 'text-anchor': 'end', textLength: treatmentLabelLengths[i], lengthAdjust: 'spacingAndGlyphs'}, g);
    label.textContent = treatmentLabels[i];
    
    
  });

  const axes = make('path', {d: 'M' + layout.axisX + ' ' + layout.yTop + 'V' + layout.y0 + 'M' + layout.xL + ' ' + layout.y0 + 'H' + layout.xR, fill: 'none', stroke: '#333333', 'stroke-width': 3}, g);
  
  
  ticks.forEach(function (t, i) {
    const tick = make('line', {x1: layout.xL, x2: layout.axisX, y1: yScale(t), y2: yScale(t), stroke: '#333333', 'stroke-width': 2.5}, g);
    
    
    const label = make('text', {x: layout.labelRight, y: yScale(t) + 13, 'font-size': 50, 'text-anchor': 'end'}, g);
    label.textContent = tickLabels[i];
    
    
  });
  const title = make('text', {transform: 'translate(2387,' + (layout.y0 + 71) + ') rotate(-90)', 'font-size': 41, textLength: 418, lengthAdjust: 'spacingAndGlyphs'}, g);
  title.textContent = 'Wound Confluence (%)';
  
  
}

drawProliferationChart('231-par', {axisX: 247, yTop: 145, y0: 561, groupStarts: [263.4, 583.5], step: 47.8, barW: 31, xL: 230, xR: 870, labelCenters: [403.5, 728.5]}, parMinusDoxValues, parMinusDoxErrors, parPlusDoxValues, parPlusDoxErrors, parPlusDoxStars);
drawProliferationChart('231-d-r', {axisX: 1051, yTop: 147, y0: 563, groupStarts: [1068, 1388], step: 48, barW: 31, xL: 1035, xR: 1675, labelCenters: [1208.5, 1533.5]}, drMinusDoxValues, drMinusDoxErrors, drPlusDoxValues, drPlusDoxErrors, drPlusDoxStars);
drawProliferationChart('231-p-r', {axisX: 1855, yTop: 146, y0: 562, groupStarts: [1871, 2193], step: 48, barW: 31, xL: 1837, xR: 2482, labelCenters: [2014, 2337.5]}, prMinusDoxValues, prMinusDoxErrors, prPlusDoxValues, prPlusDoxErrors, prPlusDoxStars);

drawWoundChart('b-231-par', {axisX: 2507.5, yTop: 787, y0: 1107.5, bar0: 2525, step: 54.5, barW: 37, xL: 2494, xR: 2852, labelRight: 2488, starGap: 33}, confluenceTicksB, confluenceTickLabelsB, woundBParValues, woundBParErrors, woundBParStars);
drawWoundChart('b-231-d-r', {axisX: 2507.5, yTop: 1287, y0: 1607.5, bar0: 2525, step: 54.5, barW: 37, xL: 2494, xR: 2852, labelRight: 2488, starGap: 33}, confluenceTicksB, confluenceTickLabelsB, woundBDrValues, woundBDrErrors, woundBDrStars);
drawWoundChart('b-231-p-r', {axisX: 2507, yTop: 1792, y0: 2109, bar0: 2524, step: 53.9, barW: 36.6, xL: 2493, xR: 2848, labelRight: 2487, starGap: 31}, confluenceTicksB, confluenceTickLabelsB, woundBPrValues, woundBPrErrors, woundBPrStars);

drawWoundChart('c-231-par', {axisX: 2488, yTop: 2369, y0: 2690.5, bar0: 2505.7, step: 54.6, barW: 36.5, xL: 2474, xR: 2833, labelRight: 2459, starGap: 26}, confluenceTicksC, confluenceTickLabelsC, woundCParValues, woundCParErrors, woundCParStars);
drawWoundChart('c-231-d-r', {axisX: 2489, yTop: 2871.5, y0: 3195.5, bar0: 2507, step: 55, barW: 36.5, xL: 2475, xR: 2837, labelRight: 2460, starGap: 26}, confluenceTicksC, confluenceTickLabelsC, woundCDrValues, woundCDrErrors, woundCDrStars);
drawWoundChart('c-231-p-r', {axisX: 2488.5, yTop: 3374, y0: 3701, bar0: 2506, step: 55, barW: 36.5, xL: 2475, xR: 2837, labelRight: 2460, starGap: 28}, confluenceTicksC, confluenceTickLabelsC, woundCPrValues, woundCPrErrors, woundCPrStars);
</script>
</body>
</html>
